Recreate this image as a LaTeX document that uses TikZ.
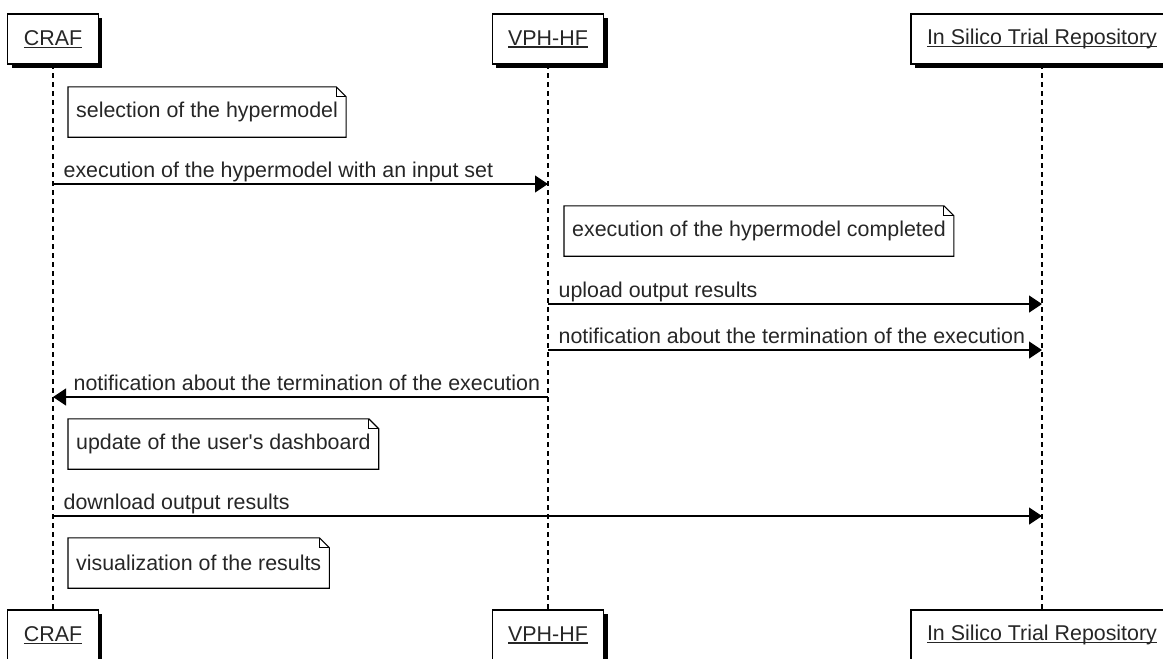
\documentclass[tikz,border=0pt]{standalone}
\usepackage{fontspec}
\setmainfont{Liberation Sans}
\usetikzlibrary{arrows.meta,shadows,positioning}
\newsavebox\lblbox
\newcommand\ulbl[1]{\sbox\lblbox{#1}\rlap{\rule[-2.5pt]{\wd\lblbox}{1.2pt}}\usebox\lblbox}
\tikzset{
	every node/.style={font=\fontsize{21.4}{25}\selectfont, text=black!85},
	actor/.style={draw, line width=1.2pt, fill=white, minimum height=50pt, inner xsep=16pt,
		drop shadow={shadow xshift=4pt, shadow yshift=-4pt, fill=black, opacity=1}},
	life/.style={line width=1.1pt, dash pattern=on 5pt off 4pt},
	msg/.style={line width=1.3pt, -{Triangle[length=13pt,width=17pt]}},
	msgtext/.style={anchor=base west, inner sep=0pt, yshift=7pt},
	note/.style={anchor=west, minimum height=50pt, inner xsep=8pt},
	noteline/.style={line width=1.1pt},
}
\begin{document}
\begin{tikzpicture}[x=1pt,y=-1pt]
	\useasboundingbox (0,0) rectangle (1163,659);
	\clip (0,0) rectangle (1163,659);
	% lifelines
	\draw [life] (53,64) coordinate (craf) -- (53,610);
	\draw [life] (548,64) coordinate (vph) -- (548,610);
	\draw [life] (1042,64) coordinate (repo) -- (1042,610);
	% participants, top and bottom
	\node [actor] (craft) at (53,39) {\ulbl{CRAF}};
	\node [actor] (vpht) at (548,39) {\ulbl{VPH-HF}};
	\node [actor] (repot) at (1042,39) {\ulbl{In Silico Trial Repository}};
	\node [actor] (crafb) at (53,635) {\ulbl{CRAF}};
	\node [actor] (vphb) at (548,635) {\ulbl{VPH-HF}};
	\node [actor] (repob) at (1042,635) {\ulbl{In Silico Trial Repository}};
	% notes with folded corner
	\node [note] (sel) at (68,112) {selection of the hypermodel};
	\node [note] (done) at (564,231) {execution of the hypermodel completed};
	\node [note] (dash) at (68,444) {update of the user\textquotesingle s dashboard};
	\node [note] (vis) at (68,563) {visualization of the results};
	\foreach \n in {sel,done,dash,vis}{
		\draw [noteline] (\n.south west) -- (\n.north west) -- ([xshift=-10pt]\n.north east)
			-- ([yshift=-10pt]\n.north east) -- (\n.south east) -- cycle;
		\draw [noteline] ([xshift=-10pt]\n.north east) |- ([yshift=-10pt]\n.north east);
	}
	% messages
	\draw [msg] (craf |- 0,184) -- (vph |- 0,184) node [msgtext, pos=0, xshift=10pt] {execution of the hypermodel with an input set};
	\draw [msg] (vph |- 0,304) -- (repo |- 0,304) node [msgtext, pos=0, xshift=10pt] {upload output results};
	\draw [msg] (vph |- 0,350) -- (repo |- 0,350) node [msgtext, pos=0, xshift=10pt] {notification about the termination of the execution};
	\draw [msg] (vph |- 0,397) -- (craf |- 0,397) node [msgtext, pos=1, xshift=20pt] {notification about the termination of the execution};
	\draw [msg] (craf |- 0,516) -- (repo |- 0,516) node [msgtext, pos=0, xshift=10pt] {download output results};
\end{tikzpicture}
\end{document}
